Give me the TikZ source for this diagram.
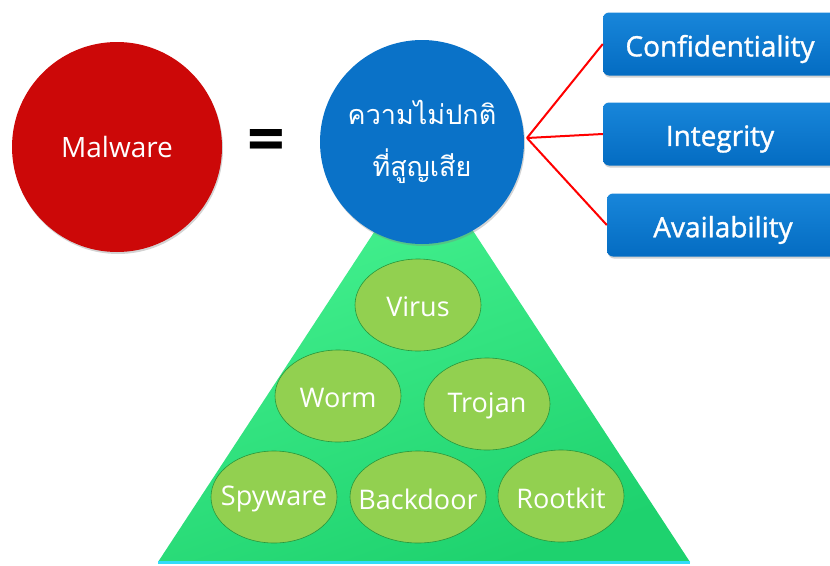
\documentclass[tikz,border=0pt]{standalone}
\usepackage{fontspec}
\setmainfont{Open Sans}
\newfontfamily\thaifont[Script=Thai]{Loma}
\newfontfamily\boxfont[FakeBold=1.2]{Open Sans}
\usetikzlibrary{shapes.geometric,shadows}

\definecolor{malred}{RGB}{204,8,8}
\definecolor{lossblue}{RGB}{10,114,200}
\definecolor{boxtop}{RGB}{24,134,218}
\definecolor{boxbot}{RGB}{4,108,194}
\definecolor{pyrlight}{RGB}{72,244,146}
\definecolor{pyrdark}{RGB}{30,210,110}
\definecolor{blobfill}{RGB}{146,208,80}
\definecolor{blobline}{RGB}{40,150,60}
\definecolor{basecyan}{RGB}{50,220,250}

\tikzset{
  bigdisc/.style={circle, inner sep=0pt, text=white, align=center,
    drop shadow={shadow xshift=1pt, shadow yshift=-2pt, opacity=0.35}},
  ciabox/.style={rectangle, rounded corners=6pt, inner sep=0pt,
    top color=boxtop, bottom color=boxbot,
    minimum height=63pt,
    drop shadow={shadow xshift=1pt, shadow yshift=-2pt, opacity=0.35}},
  boxtext/.style={text=white, yshift=-5pt,
    font=\boxfont\fontsize{28}{32}\selectfont},
  blob/.style={ellipse, inner sep=0pt, fill=blobfill, draw=blobline,
    line width=0.6pt, minimum width=126pt, minimum height=92pt},
  blobtext/.style={text=white, yshift=-2pt, font=\fontsize{27}{30}\selectfont},
  link/.style={draw=red, line width=2pt}
}

\begin{document}
\begin{tikzpicture}[x=1pt,y=-1pt]
\useasboundingbox (0,0) rectangle (830,565);

% pyramid of malware kinds
\coordinate (apex) at (424,156);
\coordinate (bl) at (158,562);
\coordinate (br) at (690,562);
\shade[top color=pyrlight, bottom color=pyrdark, shading angle=20]
  (apex) -- (br) -- (bl) -- cycle;
\draw[draw=basecyan, line width=3pt] (bl) -- (br);

\node[blob, label={[blobtext]center:Virus}]    (virus)    at (418,305) {};
\node[blob, label={[blobtext]center:Worm}]     (worm)     at (338,396) {};
\node[blob, label={[blobtext]center:Trojan}]   (trojan)   at (487,404) {};
\node[blob, label={[blobtext]center:Spyware}]  (spyware)  at (274,497) {};
\node[blob, minimum width=136pt,
      label={[blobtext]center:Backdoor}]       (backdoor) at (418,497) {};
\node[blob, label={[blobtext]center:Rootkit}]  (rootkit)  at (561,496) {};

% left side of the equation
\node[bigdisc, fill=malred, minimum size=210pt,
  font=\fontsize{28}{32}\selectfont] (malware) at (117,147) {Malware};
\node[font=\fontsize{66}{66}\selectfont\bfseries] (eq) at (266,146) {=};

% right side of the equation
\node[bigdisc, fill=lossblue, minimum size=204pt,
  font=\thaifont\fontsize{27}{52}\selectfont] (loss) at (422,142)
  {ความไม่ปกติ\\ที่สูญเสีย};

% CIA boxes
\node[ciabox, minimum width=234pt,
      label={[boxtext]center:Confidentiality}] (conf)  at (720,44)  {};
\node[ciabox, minimum width=234pt,
      label={[boxtext]center:Integrity}]       (integ) at (720,134) {};
\node[ciabox, minimum width=232pt,
      label={[boxtext]center:Availability}]    (avail) at (723,225) {};

\coordinate (hub) at (527,138);
\draw[link] (hub) -- (conf.west);
\draw[link] (hub) -- (integ.west);
\draw[link] (hub) -- (avail.west);
\end{tikzpicture}
\end{document}
